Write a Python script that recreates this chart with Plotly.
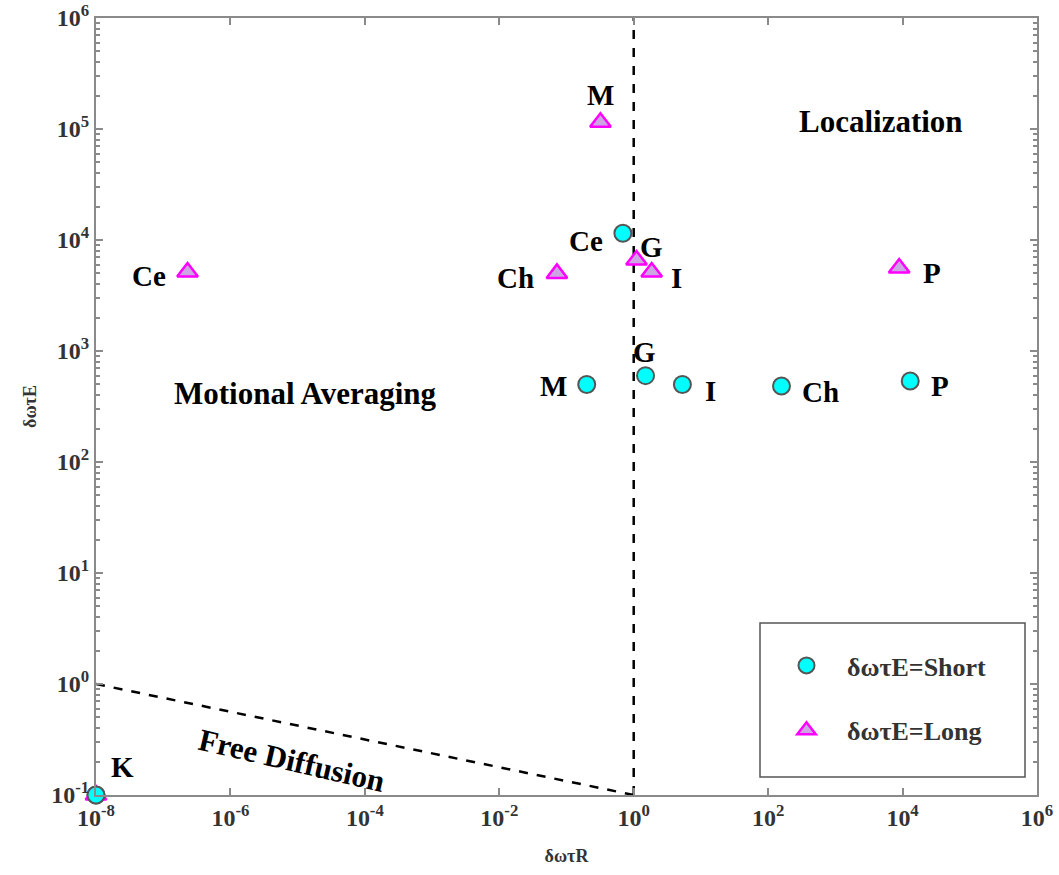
import numpy as np
import plotly.graph_objects as go

# ---- data ----
short_labels = ["K", "Ce", "M", "G", "I", "Ch", "P"]
short_x = [1e-8, 0.69, 0.2, 1.5, 5.3, 158, 13000]
short_y = [0.1, 11500, 500, 600, 500, 484, 537]

long_labels = ["K", "Ce", "M", "Ch", "G", "I", "P"]
long_x = [1e-8, 2.3e-7, 0.32, 0.072, 1.1, 1.85, 8900]
long_y = [0.1, 5150, 115000, 5000, 6600, 5150, 5600]

boundary_vert_x = [1, 1]
boundary_vert_y = [0.1, 1e6]
boundary_diag_x = [1e-8, 1]
boundary_diag_y = [1, 0.1]

x_tickvals = [1e-8, 1e-6, 1e-4, 1e-2, 1e0, 1e2, 1e4, 1e6]
x_ticktext = ["10<sup>-8</sup>", "10<sup>-6</sup>", "10<sup>-4</sup>", "10<sup>-2</sup>",
              "10<sup>0</sup>", "10<sup>2</sup>", "10<sup>4</sup>", "10<sup>6</sup>"]
y_tickvals = [1e-1, 1e0, 1e1, 1e2, 1e3, 1e4, 1e5, 1e6]
y_ticktext = ["10<sup>-1</sup>", "10<sup>0</sup>", "10<sup>1</sup>", "10<sup>2</sup>",
              "10<sup>3</sup>", "10<sup>4</sup>", "10<sup>5</sup>", "10<sup>6</sup>"]

# label pixel offsets (dx, dy up)
short_offsets = {"K": (26, 28), "Ce": (-37, -8), "M": (-33, -2), "G": (-1, 24),
                 "I": (28, -7), "Ch": (39, -6), "P": (30, -5)}
long_offsets = {"Ce": (-39, -4), "M": (0, 27), "Ch": (-41, -5), "G": (15, 13),
                "I": (25, -6), "P": (33, -5)}

FONT = "Liberation Serif"
GRAY = "#8a8a8a"

# plot-area pixel geometry
L, R, T, B = 96, 1037, 18, 795
PW, PH = R - L, B - T


def px(xp):
    return (xp - L) / PW


def py(yp):
    return (B - yp) / PH


fig = go.Figure()

fig.add_trace(go.Scatter(x=boundary_vert_x, y=boundary_vert_y, mode="lines",
                         line=dict(color="black", width=2.5, dash="dash"), showlegend=False,
                         hoverinfo="skip"))
fig.add_trace(go.Scatter(x=boundary_diag_x, y=boundary_diag_y, mode="lines",
                         line=dict(color="black", width=2.5, dash="dash"), showlegend=False,
                         hoverinfo="skip"))

fig.add_trace(go.Scatter(x=short_x, y=short_y, mode="markers", name="δωτE=Short",
                         legendgroup="a", cliponaxis=False,
                         marker=dict(symbol="circle", size=17, color="#00FFFF",
                                     line=dict(color="#555555", width=2))))
fig.add_trace(go.Scatter(x=long_x, y=long_y, mode="markers", name="δωτE=Long",
                         legendgroup="b", cliponaxis=False,
                         marker=dict(symbol="triangle-up", size=18, color="#CBA6E3",
                                     line=dict(color="#FF00FF", width=2.5))))
# redraw short K on top
fig.add_trace(go.Scatter(x=short_x[:1], y=short_y[:1], mode="markers", showlegend=False,
                         cliponaxis=False,
                         marker=dict(symbol="circle", size=17, color="#00FFFF",
                                     line=dict(color="#555555", width=2))))

label_font = dict(family=FONT, size=29, color="black", weight="bold")
annots = []
for lab, xv, yv in zip(short_labels, short_x, short_y):
    if lab in short_offsets:
        dx, dy = short_offsets[lab]
        annots.append(dict(x=np.log10(xv), y=np.log10(yv), xref="x", yref="y", text=lab,
                           showarrow=False, xshift=dx, yshift=dy, font=label_font,
                           xanchor="center", yanchor="middle"))
for lab, xv, yv in zip(long_labels, long_x, long_y):
    if lab in long_offsets:
        dx, dy = long_offsets[lab]
        annots.append(dict(x=np.log10(xv), y=np.log10(yv), xref="x", yref="y", text=lab,
                           showarrow=False, xshift=dx, yshift=dy, font=label_font,
                           xanchor="center", yanchor="middle"))

region_font = dict(family=FONT, size=31, color="black", weight="bold")
annots.append(dict(x=px(881), y=py(121), xref="paper", yref="paper", xanchor="center",
                   yanchor="middle", text="Localization", showarrow=False, font=region_font))
annots.append(dict(x=px(305), y=py(394), xref="paper", yref="paper", xanchor="center",
                   yanchor="middle", text="Motional Averaging", showarrow=False,
                   font=region_font))
annots.append(dict(x=px(292), y=py(760), xref="paper", yref="paper", xanchor="center",
                   yanchor="middle", text="Free Diffusion", showarrow=False, textangle=13,
                   font=region_font))

axis_common = dict(type="log", showgrid=False, zeroline=False, showline=True,
                   linecolor=GRAY, linewidth=2, mirror="allticks", ticks="inside",
                   ticklen=7, tickcolor=GRAY, tickwidth=1.5, automargin=False,
                   tickfont=dict(family=FONT, size=24, color="#333333", weight="bold"))

fig.update_xaxes(**axis_common, range=[-8, 6], tickmode="array", tickvals=x_tickvals,
                 ticktext=x_ticktext,
                 title=dict(text="δωτR", font=dict(family=FONT, size=18, color="#333333",
                                                    weight="bold"), standoff=20))
fig.update_yaxes(**axis_common, range=[-1, 6], tickmode="array", tickvals=y_tickvals,
                 ticktext=y_ticktext,
                 minor=dict(ticks="inside", ticklen=4, tickcolor=GRAY, dtick="D1", showgrid=False),
                 title=dict(text="δωτE", font=dict(family=FONT, size=18, color="#333333",
                                                    weight="bold"), standoff=10))

fig.update_layout(
    width=1059, height=875,
    margin=dict(l=L, r=1059 - R, t=T, b=875 - B, autoexpand=False),
    plot_bgcolor="white", paper_bgcolor="white",
    annotations=annots,
    shapes=[dict(type="rect", xref="paper", yref="paper", x0=px(760), x1=px(1025),
                 y0=py(777), y1=py(623), line=dict(color="#555555", width=1.5),
                 fillcolor="white", layer="below")],
    legend=dict(x=px(766), y=py(642), xanchor="left", yanchor="top",
                borderwidth=0, bgcolor="rgba(0,0,0,0)",
                font=dict(family=FONT, size=26, color="#333333", weight="bold"),
                tracegroupgap=28, itemwidth=71),
)

fig.write_html("out.html")
